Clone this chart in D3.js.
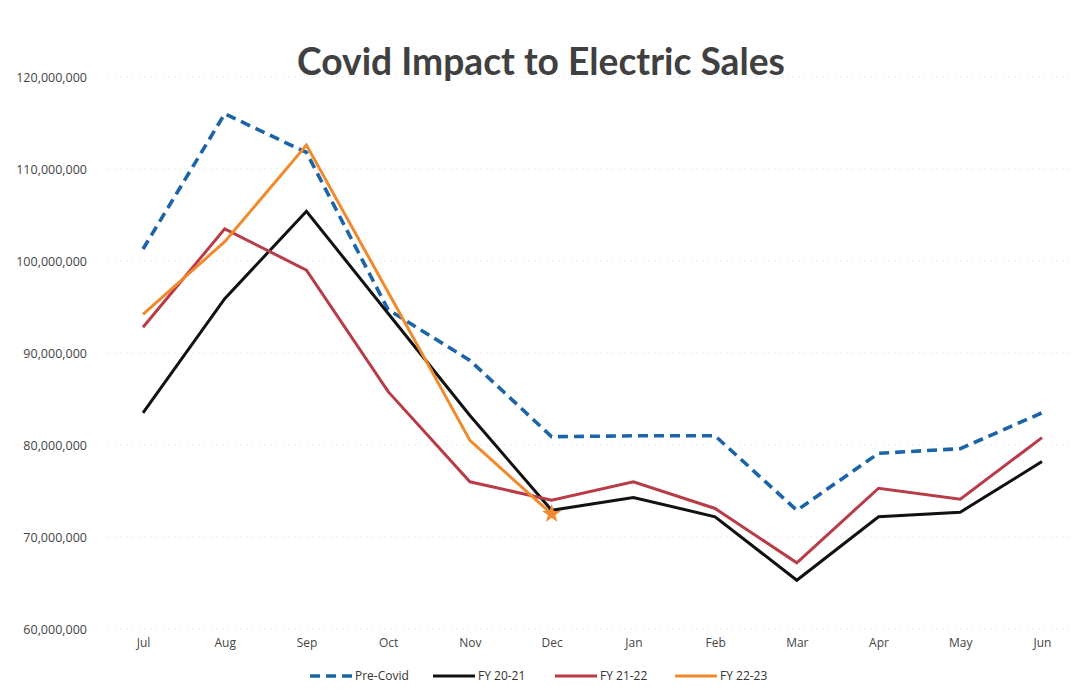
<!DOCTYPE html>
<html>
<head>
<meta charset="utf-8">
<script src="https://cdn.jsdelivr.net/npm/d3@7"></script>
<style>
  html, body { margin: 0; padding: 0; background: #fff; }
  svg { display: block; }
</style>
</head>
<body>
<svg id="chart" width="1074" height="691"></svg>
<script>
const months = ["Jul","Aug","Sep","Oct","Nov","Dec","Jan","Feb","Mar","Apr","May","Jun"];
const yTicks = [60000000, 70000000, 80000000, 90000000, 100000000, 110000000, 120000000];
const preCovid = [101.3, 116.0, 111.8, 94.7, 89.2, 80.9, 81.0, 81.0, 72.9, 79.1, 79.6, 83.5].map(v => v * 1e6);
const fy2021  = [83.5, 95.9, 105.4, 94.3, 83.2, 72.9, 74.3, 72.2, 65.3, 72.2, 72.7, 78.2].map(v => v * 1e6);
const fy2122  = [92.8, 103.5, 99.0, 85.8, 76.0, 74.0, 76.0, 73.1, 67.2, 75.3, 74.1, 80.8].map(v => v * 1e6);
const fy2223  = [94.2, 102.1, 112.6, 96.6, 80.5, 72.5].map(v => v * 1e6);
const seriesNames = ["Pre-Covid", "FY 20-21", "FY 21-22", "FY 22-23"];
const title = "Covid Impact to Electric Sales";

const series = [
  { name: seriesNames[0], values: preCovid, color: "#1c64a8", width: 3.6, dash: "10,6" },
  { name: seriesNames[1], values: fy2021, color: "#111111", width: 3, dash: null },
  { name: seriesNames[2], values: fy2122, color: "#b83c48", width: 3, dash: null },
  { name: seriesNames[3], values: fy2223, color: "#f08a2c", width: 3, dash: null }
];

const svg = d3.select("#chart");
const x = d3.scalePoint().domain(months).range([143, 1042]);
const y = d3.scaleLinear().domain([60000000, 120000000]).range([629, 77]);

// gridlines (very faint, as in the scanned original)
svg.append("g").selectAll("line").data(yTicks).join("line")
  .attr("x1", 108).attr("x2", 1070)
  .attr("y1", d => y(d)).attr("y2", d => y(d))
  .attr("stroke", "#ebebeb").attr("stroke-width", 1).attr("stroke-dasharray", "2,4");

// y axis labels
const yAxis = d3.axisLeft(y).tickValues(yTicks).tickFormat(d3.format(",")).tickSize(0).tickPadding(0);
const yg = svg.append("g").attr("transform", "translate(87,0)").call(yAxis);
yg.select(".domain").remove();
yg.selectAll("text").attr("font-family", "Open Sans, sans-serif").attr("font-size", 12.5).attr("fill", "#454545");

// x axis labels
const xAxis = d3.axisBottom(x).tickSize(0).tickPadding(0);
const xg = svg.append("g").attr("transform", "translate(0,638)").call(xAxis);
xg.select(".domain").remove();
xg.selectAll("text").attr("font-family", "Liberation Sans Narrow, Open Sans, sans-serif").attr("font-size", 12).attr("fill", "#454545");

// lines
const line = d3.line().x((d, i) => x(months[i])).y(d => y(d));
series.forEach(s => {
  svg.append("path").datum(s.values)
    .attr("fill", "none")
    .attr("stroke", s.color)
    .attr("stroke-width", s.width)
    .attr("stroke-linejoin", "miter")
    .attr("stroke-dasharray", s.dash)
    .attr("d", line);
});

// star marker at last FY 22-23 point
const lastIdx = fy2223.length - 1;
svg.append("path")
  .attr("d", d3.symbol().type(d3.symbolStar).size(110)())
  .attr("transform", `translate(${x(months[lastIdx])},${y(fy2223[lastIdx])})`)
  .attr("fill", "#f08a2c");

// title
const t = svg.append("text")
  .attr("x", 541).attr("y", 75)
  .attr("text-anchor", "middle")
  .attr("font-family", "Lato, Open Sans, sans-serif")
  .attr("font-weight", "bold")
  .attr("font-size", 31)
  .attr("fill", "#404040")
  .text(title);
const tw = t.node().getComputedTextLength();
t.attr("font-size", 31 * 488 / tw);

// legend
const legendX = [310, 433, 555, 675];
const leg = svg.append("g");
series.forEach((s, i) => {
  const g = leg.append("g").attr("transform", `translate(${legendX[i]},676)`);
  g.append("line").attr("x1", 0).attr("x2", 42).attr("y1", 0).attr("y2", 0)
    .attr("stroke", s.color).attr("stroke-width", s.width)
    .attr("stroke-dasharray", s.dash);
  g.append("text").attr("x", 45).attr("y", 4)
    .attr("font-family", "Liberation Sans Narrow, Open Sans, sans-serif")
    .attr("font-size", 12).attr("fill", "#333")
    .text(s.name);
});
</script>
</body>
</html>
